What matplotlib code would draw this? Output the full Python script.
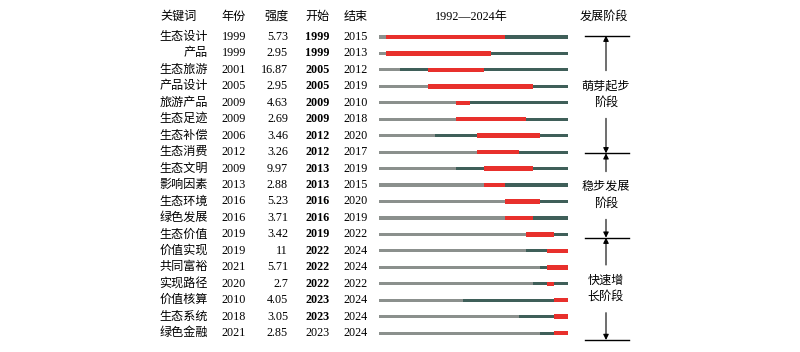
import matplotlib
matplotlib.use("Agg")
import matplotlib.pyplot as plt

plt.rcParams['font.family'] = ['Liberation Serif', 'Noto Sans CJK SC', 'DejaVu Sans']

# table data
keywords = ['生态设计', '产品', '生态旅游', '产品设计', '旅游产品', '生态足迹', '生态补偿',
            '生态消费', '生态文明', '影响因素', '生态环境', '绿色发展', '生态价值', '价值实现',
            '共同富裕', '实现路径', '价值核算', '生态系统', '绿色金融']
years = ['1999', '1999', '2001', '2005', '2009', '2009', '2006', '2012', '2009', '2013',
         '2016', '2016', '2019', '2019', '2021', '2020', '2010', '2018', '2021']
strengths = ['5.73', '2.95', '16.87', '2.95', '4.63', '2.69', '3.46', '3.26', '9.97', '2.88',
             '5.23', '3.71', '3.42', '11', '5.71', '2.7', '4.05', '3.05', '2.85']
begins = ['1999', '1999', '2005', '2005', '2009', '2009', '2012', '2012', '2013', '2013',
          '2016', '2016', '2019', '2022', '2022', '2022', '2023', '2023', '2023']
ends = ['2015', '2013', '2012', '2019', '2010', '2018', '2020', '2017', '2019', '2015',
        '2020', '2019', '2022', '2024', '2024', '2022', '2024', '2024', '2024']
bold_begin = [True] * 18 + [False]

# timeline bars as drawn (segment index on a 27-segment strip)
n_seg = 27
seg_first = [1, 1, 3, 7, 11, 11, 8, 14, 11, 15, 18, 18, 21, 21, 23, 22, 12, 20, 23]
seg_start = [1, 1, 7, 7, 11, 11, 14, 14, 15, 15, 18, 18, 21, 24, 24, 24, 25, 25, 25]
seg_end = [18, 16, 15, 22, 13, 21, 23, 20, 22, 18, 23, 22, 25, 27, 27, 25, 27, 27, 27]

headers = ['关键词', '年份', '强度', '开始', '结束']
timeline_title = '1992\u20142024年'
stage_title = '发展阶段'
stages = ['萌芽起步\n阶段', '稳步发展\n阶段', '快速增\n长阶段']
stage_bounds = [-0.08, 7.07, 12.2, 18.42]

fs = 8.7
ylim = (19.15, -2.25)
fig = plt.figure(figsize=(8, 3.52), dpi=100)

ax = fig.add_axes([0, 0, 1, 1])
ax.set_xlim(0, 800)
ax.set_ylim(*ylim)
ax.axis('off')

hy = -1.22
for h, x in zip(headers, [179, 234, 277, 317.5, 355.5]):
    ax.text(x, hy, h, ha='center', va='center', fontsize=fs)
ax.text(471.5, hy, timeline_title, ha='center', va='center', fontsize=fs)
ax.text(604, hy, stage_title, ha='center', va='center', fontsize=fs)

for i in range(len(keywords)):
    ax.text(208, i, keywords[i], ha='right', va='center', fontsize=fs)
    ax.text(234, i, years[i], ha='center', va='center', fontsize=fs)
    ax.text(288, i, strengths[i], ha='right', va='center', fontsize=fs)
    ax.text(317.5, i, begins[i], ha='center', va='center', fontsize=fs,
            fontweight='bold' if bold_begin[i] else 'normal')
    ax.text(355.5, i, ends[i], ha='center', va='center', fontsize=fs)

# stage brackets
for b in stage_bounds:
    ax.plot([585, 629], [b, b], color='black', lw=1)
for k, label in enumerate(stages):
    top, bot = stage_bounds[k], stage_bounds[k + 1]
    mid = (top + bot) / 2
    ax.text(606, mid, label, ha='center', va='center', fontsize=fs, linespacing=1.5)
    ax.annotate('', xy=(606, top), xytext=(606, mid - 1.45),
                arrowprops=dict(arrowstyle='-|>', color='black', lw=0.8,
                                mutation_scale=8, shrinkA=0, shrinkB=0))
    ax.annotate('', xy=(606, bot), xytext=(606, mid + 1.45),
                arrowprops=dict(arrowstyle='-|>', color='black', lw=0.8,
                                mutation_scale=8, shrinkA=0, shrinkB=0))

# timeline strip
axt = fig.add_axes([379.3 / 800, 0, 188.4 / 800, 1])
axt.set_xlim(0, n_seg)
axt.set_ylim(*ylim)
axt.axis('off')

gray, teal, red = '#8b908d', '#3f5f59', '#e8302c'
rows = list(range(len(keywords)))
axt.barh(rows, seg_first, left=0, height=0.19, color=gray)
axt.barh(rows, [n_seg - f for f in seg_first], left=seg_first, height=0.19, color=teal)
axt.barh(rows, [e - s for s, e in zip(seg_start, seg_end)], left=seg_start,
         height=0.27, color=red)

fig.savefig('out.png', dpi=100, facecolor='white')
